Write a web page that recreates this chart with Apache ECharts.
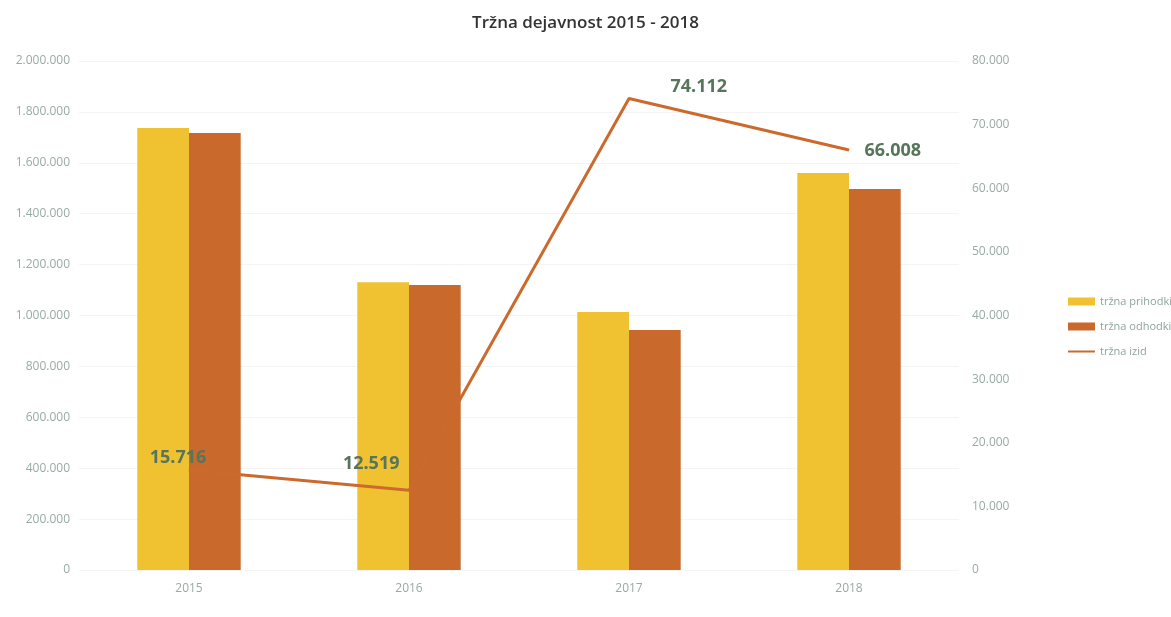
<!DOCTYPE html>
<html>
<head>
<meta charset="utf-8">
<title>Tržna dejavnost 2015 - 2018</title>
<script src="https://cdn.jsdelivr.net/npm/echarts@6/dist/echarts.min.js"></script>
<style>
  html, body { margin: 0; padding: 0; background: #fff; }
  #chart { width: 1171px; height: 617px; }
</style>
</head>
<body>
<div id="chart"></div>
<script>
// data
const years = ['2015', '2016', '2017', '2018'];
const prihodki = [1737000, 1131000, 1014000, 1560000];
const odhodki = [1717000, 1120000, 943000, 1497000];
const izid = [15716, 12519, 74112, 66008];

// where each value label sits around its point
const labelPlace = [
  { position: 'top', offset: [-11, 2] },
  { position: 'left', offset: [-4, -26] },
  { position: 'right', offset: [36, -12] },
  { position: 'right', offset: [10, 1] }
];

// 1.800.000 style numbers
function fmt(v) {
  return String(Math.round(v)).replace(/\B(?=(\d{3})+(?!\d))/g, '.');
}

const axisText = { color: '#98aaa4', fontSize: 12, fontFamily: 'Open Sans' };
const lineColor = '#cc6a2e';

const chart = echarts.init(document.getElementById('chart'));

chart.setOption({
  animation: false,
  title: {
    text: 'Tržna dejavnost 2015 - 2018',
    left: 'center',
    top: 10,
    textStyle: { color: '#333', fontSize: 17, fontWeight: 600, fontFamily: 'Open Sans' }
  },
  legend: {
    orient: 'vertical',
    left: 1062,
    top: 291,
    itemGap: 14,
    itemWidth: 27,
    itemHeight: 8,
    data: [
      { name: 'tržna prihodki', icon: 'rect' },
      { name: 'tržna odhodki', icon: 'rect' },
      { name: 'tržna izid', itemStyle: { color: 'transparent', borderWidth: 0 } }
    ],
    textStyle: { color: '#8fa39c', fontSize: 11, fontFamily: 'Open Sans' }
  },
  grid: { left: 79, right: 212, top: 61, bottom: 47 },
  xAxis: {
    type: 'category',
    data: years,
    axisLine: { show: false },
    axisTick: { show: false },
    axisLabel: Object.assign({ margin: 13 }, axisText)
  },
  yAxis: [
    {
      type: 'value',
      min: 0,
      max: 2000000,
      interval: 200000,
      axisLabel: Object.assign({ margin: 9, formatter: fmt }, axisText),
      splitLine: { lineStyle: { color: '#f3f4f3' } }
    },
    {
      type: 'value',
      min: 0,
      max: 80000,
      interval: 10000,
      axisLabel: Object.assign({ margin: 13, formatter: fmt }, axisText),
      splitLine: { show: false }
    }
  ],
  series: [
    {
      name: 'tržna prihodki',
      type: 'bar',
      data: prihodki,
      barGap: '0%',
      barCategoryGap: '53%',
      itemStyle: { color: '#f0c232' }
    },
    {
      name: 'tržna odhodki',
      type: 'bar',
      data: odhodki,
      itemStyle: { color: '#c9692c' }
    },
    {
      name: 'tržna izid',
      type: 'line',
      yAxisIndex: 1,
      z: 5,
      symbol: 'circle',
      symbolSize: 1,
      showSymbol: true,
      lineStyle: { color: lineColor, width: 3 },
      itemStyle: { color: lineColor },
      data: izid.map((v, i) => ({
        value: v,
        label: Object.assign({}, labelPlace[i])
      })),
      label: {
        show: true,
        formatter: p => fmt(p.value),
        color: '#56755a',
        fontSize: 18,
        fontWeight: 'bold',
        fontFamily: 'Open Sans'
      }
    }
  ]
});
</script>
</body>
</html>
